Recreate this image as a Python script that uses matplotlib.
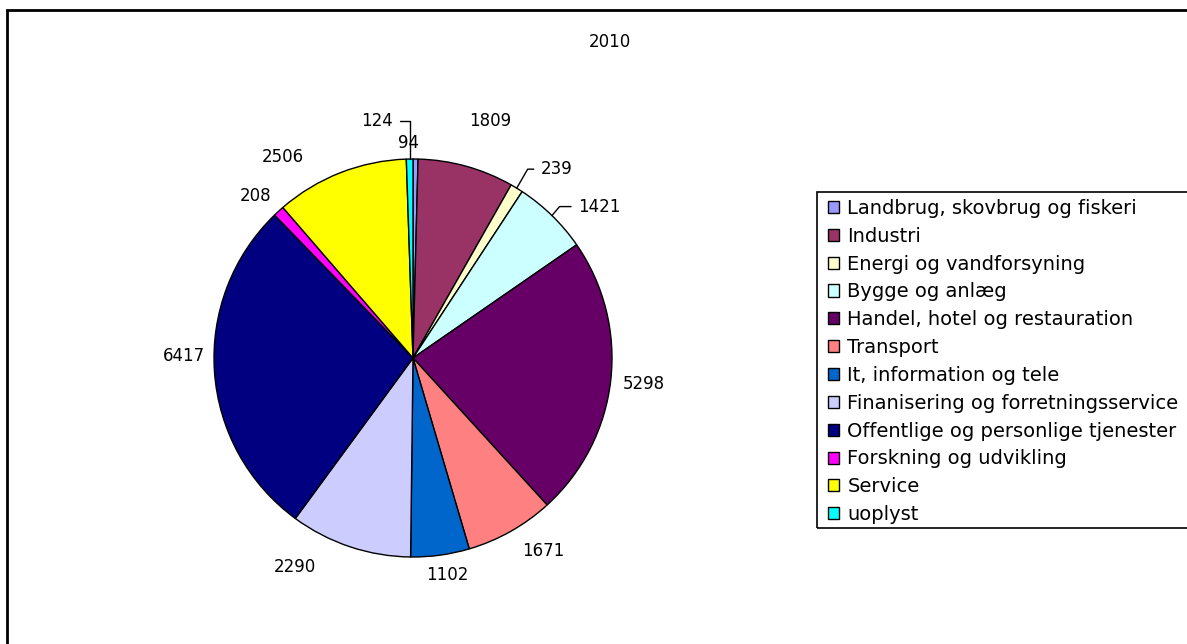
import numpy as np
import matplotlib
matplotlib.use("Agg")
import matplotlib.pyplot as plt
from matplotlib.patches import Rectangle, Patch

# ---------------- data ----------------
TITLE = "2010"
categories = [
    "Landbrug, skovbrug og fiskeri",
    "Industri",
    "Energi og vandforsyning",
    "Bygge og anlæg",
    "Handel, hotel og restauration",
    "Transport",
    "It, information og tele",
    "Finanisering og forretningsservice",
    "Offentlige og personlige tjenester",
    "Forskning og udvikling",
    "Service",
    "uoplyst",
]
values = [94, 1809, 239, 1421, 5298, 1671, 1102, 2290, 6417, 208, 2506, 124]
colors = ["#9999FF", "#993366", "#FFFFCC", "#CCFFFF", "#660066", "#FF8080",
          "#0066CC", "#CCCCFF", "#000080", "#FF00FF", "#FFFF00", "#00FFFF"]

# labels that get a leader line: index -> (dx, dy, angle of line at the slice)
leader = {2: (24, 19, 60), 3: (26, 9, 50), 11: (-17, 38, 90)}
# small pixel nudges of the other labels (Excel-like placement)
nudge = {0: (-7, -2), 1: (18, 24), 5: (20, 3), 6: (4, 0), 7: (-48, 2),
         8: (3, 18), 9: (-4, -6), 10: (-49, -6)}

W, H, DPI = 1187, 644, 100
plt.rcParams['font.family'] = ['DejaVu Sans']

fig = plt.figure(figsize=(W / DPI, H / DPI), dpi=DPI)
# outer chart frame (runs off the right/bottom edge)
fig.patches.append(Rectangle((7 / W, -0.05), 1.1, 1 - 10 / H + 0.05,
                             transform=fig.transFigure, fill=False,
                             edgecolor="black", linewidth=2, clip_on=False))

cx, cy, R = 413, 358, 199
ax = fig.add_axes([(cx - R) / W, (H - cy - R) / H, 2 * R / W, 2 * R / H])

wedges, _ = ax.pie(values, colors=colors, startangle=90, counterclock=False,
                   radius=1.0, wedgeprops=dict(edgecolor="black", linewidth=1.0))
ax.set_xlim(-1, 1)
ax.set_ylim(-1, 1)
ax.set_aspect("equal")
ax.axis("off")

total = float(sum(values))
cum = np.cumsum([0] + values[:-1])
for i, (v, c0) in enumerate(zip(values, cum)):
    frac = (c0 + v / 2) / total
    ang = np.pi / 2 - 2 * np.pi * frac
    ux, uy = np.cos(ang), np.sin(ang)
    if i in leader:
        dx, dy, a = leader[i]
        ha = "left" if dx > 0 else "right"
        ax.annotate(str(v), xy=(ux, uy), xytext=(dx, dy), textcoords="offset pixels",
                    ha=ha, va="center", fontsize=12, annotation_clip=False,
                    arrowprops=dict(arrowstyle="-", color="black", lw=1,
                                    shrinkA=3, shrinkB=0,
                                    connectionstyle="angle,angleA=0,angleB=%d" % a))
    else:
        r = 1.09 + 0.08 * abs(ux)
        ndx, ndy = nudge.get(i, (0, 0))
        ax.annotate(str(v), xy=(ux * r, uy * r), xytext=(ndx, ndy),
                    textcoords="offset pixels", ha="center", va="center",
                    fontsize=12, annotation_clip=False)

fig.text(610 / W, 1 - 42 / H, TITLE, ha="center", va="center", fontsize=12)

# legend, its box runs off the right edge like the original
handles = [Patch(facecolor=c, edgecolor="black", linewidth=1) for c in colors]
leg = fig.legend(handles, categories, loc="upper left",
                 bbox_to_anchor=(822 / W, 1 - 193 / H), fontsize=14,
                 frameon=False, handlelength=0.58, handleheight=0.58,
                 handletextpad=0.42, labelspacing=0.455, borderpad=0.3,
                 borderaxespad=0)
fig.patches.append(Rectangle((817 / W, 1 - 528 / H), 400 / W, 336 / H,
                             transform=fig.transFigure, fill=False,
                             edgecolor="black", linewidth=1.2, clip_on=False))

fig.savefig("out.png", dpi=DPI)
